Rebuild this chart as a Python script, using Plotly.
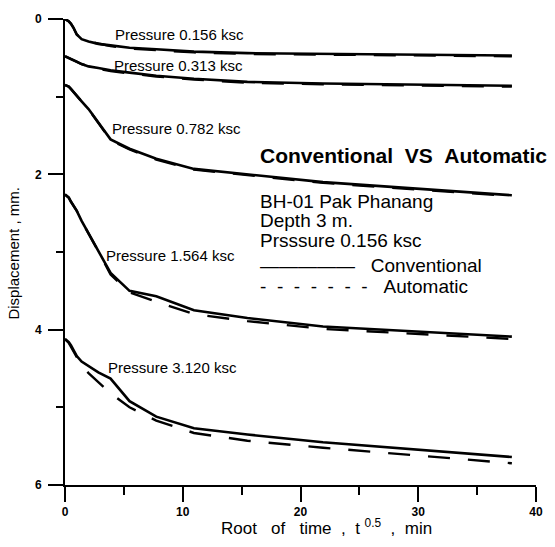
import plotly.graph_objects as go

# root of time (min^0.5)
root_time = [0, 0.32, 0.5, 0.71, 1.0, 1.41, 2.0, 2.83, 3.87, 5.48, 7.75, 10.95, 15.49, 21.91, 37.95]

# Conventional displacement (mm)
conv_0156 = [0.00, 0.03, 0.06, 0.11, 0.20, 0.26, 0.29, 0.32, 0.34, 0.37, 0.39, 0.42, 0.44, 0.45, 0.47]
conv_0313 = [0.48, 0.50, 0.51, 0.53, 0.55, 0.58, 0.61, 0.63, 0.66, 0.69, 0.73, 0.77, 0.81, 0.83, 0.86]
conv_0782 = [0.85, 0.87, 0.90, 0.94, 0.99, 1.06, 1.16, 1.33, 1.55, 1.67, 1.80, 1.93, 2.00, 2.10, 2.27]
conv_1564 = [2.26, 2.30, 2.35, 2.40, 2.47, 2.60, 2.76, 2.98, 3.27, 3.50, 3.57, 3.75, 3.85, 3.96, 4.09]
conv_3120 = [4.12, 4.16, 4.20, 4.26, 4.34, 4.41, 4.47, 4.55, 4.63, 4.92, 5.12, 5.27, 5.35, 5.45, 5.64]

# Automatic displacement (mm)
auto_0156 = [0.00, 0.03, 0.06, 0.11, 0.20, 0.26, 0.29, 0.32, 0.35, 0.38, 0.40, 0.43, 0.45, 0.46, 0.48]
auto_0313 = [0.48, 0.50, 0.51, 0.53, 0.55, 0.58, 0.61, 0.64, 0.67, 0.70, 0.74, 0.78, 0.82, 0.84, 0.87]
auto_0782 = [0.85, 0.87, 0.90, 0.94, 0.99, 1.06, 1.16, 1.34, 1.56, 1.68, 1.81, 1.94, 2.01, 2.11, 2.28]
auto_1564 = [2.26, 2.30, 2.35, 2.40, 2.47, 2.60, 2.76, 2.99, 3.29, 3.52, 3.64, 3.80, 3.89, 3.99, 4.12]
auto_3120 = [4.12, 4.17, 4.22, 4.28, 4.36, 4.46, 4.56, 4.68, 4.82, 5.00, 5.17, 5.33, 5.43, 5.52, 5.72]

pressure_labels = ["Pressure 0.156 ksc", "Pressure 0.313 ksc", "Pressure 0.782 ksc",
                   "Pressure 1.564 ksc", "Pressure 3.120 ksc"]
label_x = [9.75, 9.6, 9.5, 9.0, 9.15]
label_y = [0.2, 0.6, 1.41, 3.04, 4.49]

x_ticks = [0, 10, 20, 30, 40]
y_ticks = [0, 2, 4, 6]

FONT = "Arial, Liberation Sans, sans-serif"
NB = "\u00a0"

fig = go.Figure()
for yc in [conv_0156, conv_0313, conv_0782, conv_1564, conv_3120]:
    fig.add_trace(go.Scatter(x=root_time, y=yc, mode="lines",
                             line=dict(color="black", width=2.6), showlegend=False))
for ya in [auto_0156, auto_0313, auto_0782, auto_1564, auto_3120]:
    fig.add_trace(go.Scatter(x=root_time, y=ya, mode="lines",
                             line=dict(color="black", width=2.4, dash="22px,18px"), showlegend=False))

annotations = []
for t, x, y in zip(pressure_labels, label_x, label_y):
    annotations.append(dict(x=x, y=y, xref="x", yref="y", text=t, showarrow=False,
                            font=dict(family=FONT, size=15, color="black")))

annotations.append(dict(x=16.4, y=1.76, xref="x", yref="y", xanchor="left",
                        text="<b>Conventional" + NB * 2 + "VS" + NB * 2 + "Automatic</b>",
                        showarrow=False, font=dict(family=FONT, size=21, color="black")))
dash_auto = (("-" + NB * 2) * 6) + "-" + NB * 3 + "Automatic"
info = [("BH-01 Pak Phanang", 2.35), ("Depth 3 m.", 2.6), ("Prsssure 0.156 ksc", 2.85),
        ("—————" + NB * 3 + "Conventional", 3.17),
        (dash_auto, 3.45)]
for t, y in info:
    annotations.append(dict(x=16.4, y=y, xref="x", yref="y", xanchor="left", text=t,
                            showarrow=False, font=dict(family=FONT, size=19, color="black")))

annotations.append(dict(x=22.2, y=-0.091, xref="x", yref="paper", yanchor="middle",
                        text="Root" + NB * 3 + "of" + NB * 3 + "time" + NB * 2 + "," + NB * 2 +
                             "t <sup>0.5</sup>" + NB * 2 + "," + NB * 2 + "min",
                        showarrow=False, font=dict(family=FONT, size=17, color="black")))
annotations.append(dict(x=-0.11, y=0.497, xref="paper", yref="paper", textangle=-90,
                        xanchor="center", yanchor="middle",
                        text="Displacement , mm.", showarrow=False,
                        font=dict(family=FONT, size=15, color="black")))

fig.update_layout(
    width=555, height=547,
    margin=dict(l=65, r=18, t=12, b=62),
    paper_bgcolor="white", plot_bgcolor="white",
    annotations=annotations,
    xaxis=dict(range=[0, 40], tickvals=x_ticks, ticks="outside", ticklen=15, tickwidth=1.5,
               tickcolor="black", showline=True, linecolor="black", linewidth=2,
               showgrid=False, zeroline=False,
               tickfont=dict(family=FONT, size=12, color="black", weight="bold"),
               minor=dict(tickvals=[5, 15, 25, 35], ticks="outside", ticklen=8,
                          tickwidth=1.5, tickcolor="black")),
    yaxis=dict(range=[6, 0], tickvals=y_ticks, ticks="outside", ticklen=15, tickwidth=1.5,
               tickcolor="black", showline=True, linecolor="black", linewidth=2,
               showgrid=False, zeroline=False, ticklabelstandoff=4,
               tickfont=dict(family=FONT, size=12, color="black", weight="bold"),
               minor=dict(tickvals=[1, 3, 5], ticks="outside", ticklen=7,
                          tickwidth=1.5, tickcolor="black")),
)

fig.write_html("out.html")
